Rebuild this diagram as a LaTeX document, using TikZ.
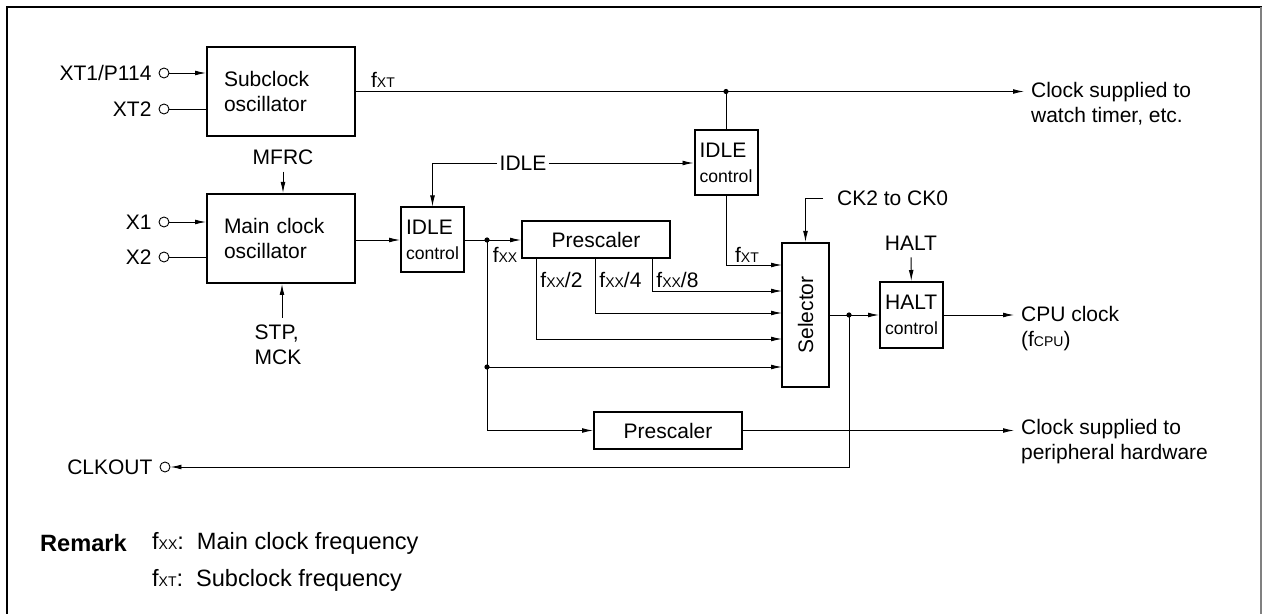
\documentclass[tikz,border=0pt]{standalone}
\usepackage{fontspec}
\setmainfont{Liberation Sans}
\usetikzlibrary{arrows.meta}
\newcommand{\smc}[1]{{\fontsize{7}{8}\selectfont #1}}
\newcommand{\ctlw}[1]{{\fontsize{8.8}{12}\selectfont #1}}

\begin{document}
\begin{tikzpicture}[x=0.5pt, y=-0.5pt,
  font=\fontsize{10.5}{12.5}\selectfont,
  line width=0.45pt,
  arr/.style={-{Latex[length=5.5pt,width=2.4pt]}},
  blk/.style={draw, line width=1pt, inner sep=0pt},
  osc/.style={blk, align=left, text width=57pt, inner xsep=8.5pt, minimum height=44.5pt},
  ctl/.style={blk, align=left, minimum width=31.5pt, minimum height=32.5pt},
  pre/.style={blk, minimum width=74pt, minimum height=18.5pt},
  pin/.style={draw, circle, inner sep=0pt, minimum size=5pt, line width=0.45pt},
  dot/.style={circle, fill, inner sep=0pt, minimum size=2.6pt},
  rmk/.style={right, font=\fontsize{11.8}{14}\selectfont}]
  \useasboundingbox (0,0) rectangle (1262,614);

  % Frame
  \draw[line width=1.4pt] (7,614) -- (7,7) -- (1262,7);
  \draw[line width=0.8pt, gray] (1261,7) -- (1261,614);

  % Blocks
  \node[osc] (sub) at (281,91.5) {Subclock\\oscillator};
  \node[osc] (main) at (281,238.5) {Main clock\\oscillator};
  \node[ctl] (idle1) at (432.5,240) {IDLE\\\ctlw{control}};
  \node[ctl] (idle2) at (726,163) {IDLE\\\ctlw{control}};
  \node[pre] (pre1) at (596,240) {Prescaler};
  \node[pre] (pre2) at (668,430.5) {Prescaler};
  \node[blk, minimum width=23.5pt, minimum height=72pt] (sel) at (805.5,315) {};
  \node[rotate=90] (selt) at (sel.center) {Selector};
  \node[ctl, minimum height=33pt] (halt) at (911.5,315) {HALT\\\ctlw{control}};

  % Pins
  \node[pin] (xt1) at (164,73) {};
  \node[left] (xt1l) at (xt1.west) {XT1/P114};
  \node[pin] (xt2) at (164,109) {};
  \node[left] (xt2l) at (xt2.west) {XT2};
  \node[pin] (x1) at (164,222) {};
  \node[left] (x1l) at (x1.west) {X1};
  \node[pin] (x2) at (164,257) {};
  \node[left] (x2l) at (x2.west) {X2};
  \node[pin] (clk) at (165,467) {};
  \node[left] (clkl) at (clk.west) {CLKOUT};
  \draw[arr] (xt1) -- (xt1 -| sub.west);
  \draw (xt2) -- (xt2 -| sub.west);
  \draw[arr] (x1) -- (x1 -| main.west);
  \draw (x2) -- (x2 -| main.west);

  % Oscillator control inputs
  \node (mfrc) at (283,157) {MFRC};
  \draw[arr] (mfrc) -- (mfrc |- main.north);
  \node[align=left] (stp) at (278,345) {STP,\\MCK};
  \draw[arr] ([xshift=2pt]stp.north) -- ([xshift=2pt]stp.north |- main.south);

  % Subclock output
  \node (fxt1) at (383,80) {f\smc{XT}};
  \node[right, align=left] (wt) at (1024,104) {Clock supplied to\\watch timer, etc.};
  \draw[arr] (sub.east) -- (sub.east -| wt.west);
  \coordinate (j1) at (idle2.north |- sub.east);
  \draw (j1) -- (idle2.north);
  \node[dot] (d1) at (j1) {};

  % IDLE signal
  \node[inner xsep=1pt] (idle) at (523,163) {IDLE};
  \draw[arr] (idle.west) -| (idle1.north);
  \draw[arr] (idle.east) -- (idle2.west);

  % Main clock path
  \draw[arr] (main.east |- idle1.west) -- (idle1.west);
  \draw[arr] (idle1.east) -- (pre1.west);
  \coordinate (j2) at (487,240);
  \node[dot] (d2) at (j2) {};
  \node (fxx) at (505,255) {f\smc{XX}};

  % Selector inputs
  \coordinate (s1) at (782,265);
  \coordinate (s2) at (782,291);
  \coordinate (s3) at (782,313);
  \coordinate (s4) at (782,339);
  \coordinate (s5) at (782,367);
  \draw[arr] (idle2.south) |- (s1);
  \node (fxt2) at (747,255) {f\smc{XT}};
  \foreach \dx/\sname/\lab in {131/s2/8, 74/s3/4, 15/s4/2} {
    \draw[arr] ([xshift=\dx*0.5pt]pre1.south west) |- (\sname);
    \node[right, inner sep=2pt] (fl\lab) at ([xshift=\dx*0.5pt, yshift=-10pt]pre1.south west) {f\smc{XX}/\lab};
  }
  \coordinate (j3) at (j2 |- s5);
  \draw[arr] (j3) -- (s5);
  \node[dot] (d3) at (j3) {};
  \draw[arr] (j2) |- (pre2.west);

  % Selector control
  \node[right] (ck) at (830,198) {CK2 to CK0};
  \draw[arr] ([xshift=-3.5pt]ck.west) -| (sel.north);

  % CPU clock
  \draw[arr] (sel.east) -- (halt.west);
  \coordinate (j4) at (849,315);
  \node[dot] (d4) at (j4) {};
  \draw[arr] (j4) |- (clk);
  \node (haltl) at (911,243) {HALT};
  \draw[arr] (haltl) -- (halt);
  \node[right, align=left] (cpu) at (1014,329) {CPU clock\\(f\smc{CPU})};
  \draw[arr] (halt.east) -- (halt.east -| cpu.west);
  \node[right, align=left] (per) at (1014,441.5) {Clock supplied to\\peripheral hardware};
  \draw[arr] (pre2.east) -- (pre2.east -| per.west);

  % Remark
  \node[rmk] (rem) at (33,543) {\bfseries Remark};
  \node[rmk] (r1) at (145,543) {f\smc{XX}:\hspace{6.5pt}Main clock frequency};
  \node[rmk] (r2) at (145,580) {f\smc{XT}:\hspace{6.5pt}Subclock frequency};
\end{tikzpicture}
\end{document}
